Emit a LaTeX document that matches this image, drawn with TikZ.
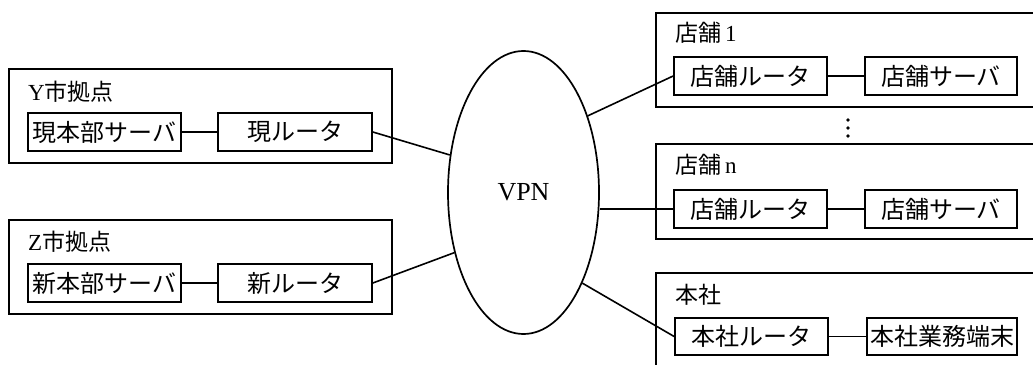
\documentclass[tikz,border=0pt]{standalone}
\usepackage{fontspec}
\setmainfont{Liberation Serif}
\newfontfamily\jp{Noto Sans CJK JP}
\usetikzlibrary{shapes.geometric}
\tikzset{
  outerbox/.style={draw, line width=1.7pt, anchor=north west, inner sep=0pt},
  devbox/.style={draw, line width=1.7pt, minimum height=38pt, inner sep=0pt, font=\fontsize{24}{26}\selectfont\jp},
  grouplabel/.style={anchor=west, inner sep=0pt, font=\fontsize{23}{25}\selectfont},
  link/.style={line width=1.6pt},
}
\begin{document}
\begin{tikzpicture}[x=1pt,y=-1pt]
\clip (0,0) rectangle (1033,364);
\fill[white] (0,0) rectangle (1033,364);
% left groups
\node[outerbox, minimum width=383pt, minimum height=94pt] (Y) at (8,68) {};
\node[grouplabel] (Ylab) at (28,92) {Y{\jp 市拠点}};
\node[devbox, minimum width=153pt] (ys) at (104.5,132) {現本部サーバ};
\node[devbox, minimum width=154pt] (yr) at (295,132) {現ルータ};
\node[outerbox, minimum width=383pt, minimum height=94pt] (Z) at (8,219) {};
\node[grouplabel] (Zlab) at (28,242) {Z{\jp 市拠点}};
\node[devbox, minimum width=153pt] (zs) at (104.5,283) {新本部サーバ};
\node[devbox, minimum width=154pt] (zr) at (295,283) {新ルータ};
% VPN
\node[ellipse, draw, line width=1.7pt, minimum width=151pt, minimum height=283pt, inner sep=0pt, font=\fontsize{26}{28}\selectfont] (vpn) at (523.5,192.5) {VPN};
% right groups
\node[outerbox, minimum width=390pt, minimum height=94pt] (S1) at (655,12) {};
\node[grouplabel] (S1lab) at (675,33) {{\jp 店舗}\,1};
\node[devbox, minimum width=153pt] (s1r) at (750.5,76) {店舗ルータ};
\node[devbox, minimum width=152pt] (s1s) at (941,76) {店舗サーバ};
\fill (848,120) circle (1.8pt) (848,128) circle (1.8pt) (848,136) circle (1.8pt);
\node[outerbox, minimum width=390pt, minimum height=95pt] (Sn) at (655,143) {};
\node[grouplabel] (Snlab) at (675,165) {{\jp 店舗}\,n};
\node[devbox, minimum width=153pt] (snr) at (750.5,209) {店舗ルータ};
\node[devbox, minimum width=152pt] (sns) at (941,209) {店舗サーバ};
\node[outerbox, minimum width=390pt, minimum height=110pt] (H) at (655,272) {};
\node[grouplabel] (Hlab) at (675,295) {{\jp 本社}};
\node[devbox, minimum width=153pt, minimum height=37pt] (hr) at (751.5,336.5) {本社ルータ};
\node[devbox, minimum width=150pt, minimum height=37pt] (ht) at (942,336.5) {本社業務端末};
% links
\draw[link] (ys.east) -- (yr.west);
\draw[link] (zs.east) -- (zr.west);
\draw[link] (s1r.east) -- (s1s.west);
\draw[link] (snr.east) -- (sns.west);
\draw[link] (hr.east) -- (ht.west);
\draw[link] (yr.east) -- (vpn.153.4);
\draw[link] (zr.east) -- (vpn.221);
\draw[link] (vpn.50) -- (s1r.west);
\draw[link] (snr.west -| vpn.east) -- (snr.west);
\draw[link] (vpn.-57) -- (hr.west);
\end{tikzpicture}
\end{document}
